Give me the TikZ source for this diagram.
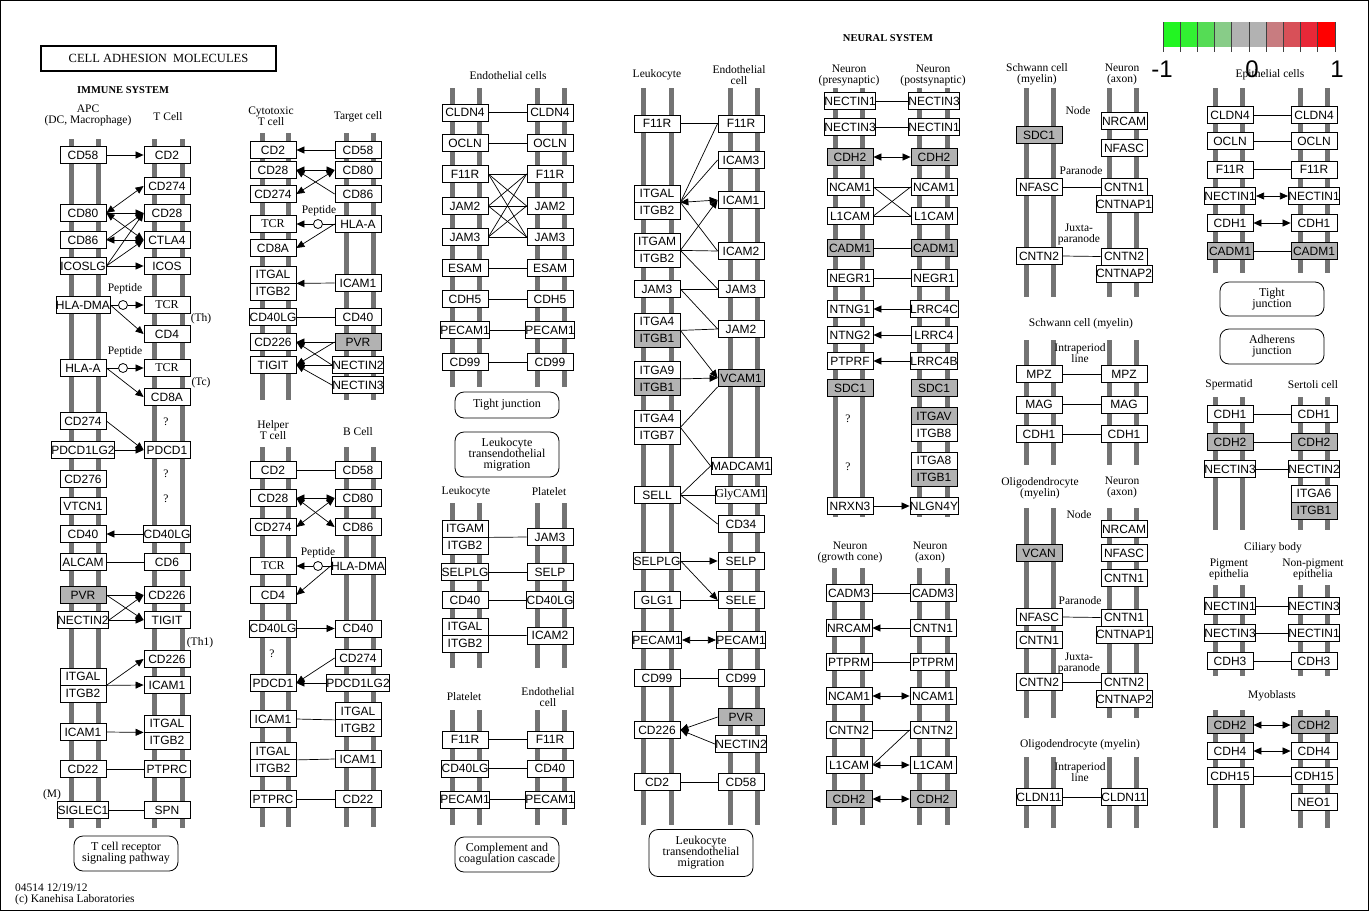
\documentclass[tikz,border=0pt]{standalone}
\usepackage{fontspec}
\setmainfont{Liberation Serif}
\newfontfamily\gfont{Liberation Sans}
\usetikzlibrary{arrows.meta}
\definecolor{kgray}{RGB}{178,178,178}
\definecolor{mgray}{RGB}{115,115,115}
\definecolor{lc1}{RGB}{34,245,34}
\definecolor{lc2}{RGB}{50,240,50}
\definecolor{lc3}{RGB}{85,220,85}
\definecolor{lc4}{RGB}{136,204,136}
\definecolor{lc5}{RGB}{178,178,178}
\definecolor{lc6}{RGB}{178,178,178}
\definecolor{lc7}{RGB}{200,124,128}
\definecolor{lc8}{RGB}{216,80,88}
\definecolor{lc9}{RGB}{232,40,56}
\definecolor{lc10}{RGB}{255,0,0}
\newcounter{lbc}
\newcommand\Gn[4]{\node[gb] (#1) at (#2,#3) {#4};}
\newcommand\Gg[4]{\node[gy] (#1) at (#2,#3) {#4};}
\newcommand\Gd[7]{\node[#6] (#1t) at (#2,#3) {#4};\node[#7] (#1b) at (#2,#3+17) {#5};}
\newcommand\Mem[4]{\draw[memb] (#1,#3) -- (#1,#4);\draw[memb] (#2,#3) -- (#2,#4);}
\newcommand\Lb[3]{\stepcounter{lbc}\node[lab] (lb\arabic{lbc}) at (#1,#2) {#3};}
\tikzset{
 gb/.style={draw, line width=0.8pt, fill=white, minimum width=46pt, minimum height=17pt, inner sep=0pt, font=\gfont\fontsize{12}{12}\selectfont},
 gy/.style={gb, fill=kgray},
 sb/.style={gb, font=\fontsize{12}{12}\selectfont},
 lab/.style={font=\fontsize{11.5}{11}\selectfont, align=center, inner sep=0pt},
 memb/.style={line width=5pt, color=mgray},
 cn/.style={line width=0.7pt},
 ar/.style={cn, -{Triangle[length=8pt,width=7pt]}},
 dar/.style={cn, {Triangle[length=8pt,width=7pt]}-{Triangle[length=8pt,width=7pt]}},
 rbox/.style={draw, rounded corners=9pt, line width=0.8pt, align=center, inner sep=0pt, minimum width=104pt, font=\fontsize{12}{11}\selectfont},
 pep/.style={circle, draw, fill=white, minimum size=9pt, inner sep=0pt, line width=0.8pt},
}
\begin{document}
\begin{tikzpicture}[x=1pt,y=-1pt]
\useasboundingbox (0,0) rectangle (1369,911);
\draw[line width=1pt] (0.5,0.5) rectangle (1368.5,910.5);
% ---------- membranes
\Mem{71}{98}{139}{828}\Mem{154}{182}{139}{828}
\Mem{262}{288}{133}{400}\Mem{346}{373}{133}{400}
\Mem{262}{288}{447}{827}\Mem{346}{373}{447}{827}
\Mem{452}{479}{88}{387}\Mem{537}{564}{88}{387}
\Mem{452}{479}{503}{668}\Mem{537}{564}{503}{668}
\Mem{452}{479}{710}{825}\Mem{537}{564}{710}{825}
\Mem{643}{671}{88}{825}\Mem{730}{757}{88}{825}
\Mem{835}{862}{88}{517}\Mem{919}{947}{88}{517}
\Mem{834}{862}{568}{825}\Mem{919}{947}{568}{825}
\Mem{1026}{1053}{88}{297}\Mem{1109}{1136}{88}{297}
\Mem{1026}{1053}{340}{465}\Mem{1109}{1136}{340}{465}
\Mem{1026}{1053}{508}{718}\Mem{1109}{1136}{508}{718}
\Mem{1026}{1053}{757}{828}\Mem{1109}{1136}{757}{828}
\Mem{1215}{1242}{88}{273}\Mem{1300}{1327}{88}{273}
\Mem{1215}{1242}{397}{530}\Mem{1300}{1327}{397}{530}
\Mem{1215}{1242}{585}{676}\Mem{1300}{1327}{585}{676}
\Mem{1215}{1242}{710}{828}\Mem{1300}{1327}{710}{828}
% ---------- title and headers
\node[draw, line width=1.6pt, minimum width=235pt, minimum height=25pt, inner sep=0pt, font=\fontsize{12.5}{12.5}\selectfont] (title) at (158.5,58.5) {CELL ADHESION\ \ MOLECULES};
\node[font=\bfseries\fontsize{10.5}{10.5}\selectfont, inner sep=0pt] (immsys) at (123,90) {IMMUNE SYSTEM};
\node[font=\bfseries\fontsize{10.5}{10.5}\selectfont, inner sep=0pt] (neusys) at (888,38) {NEURAL SYSTEM};
\Lb{88}{115}{APC\\(DC, Macrophage)}
\Lb{168}{117}{T Cell}
\Lb{271}{116}{Cytotoxic\\T cell}
\Lb{358}{117}{Target cell}
\Lb{273}{430}{Helper\\T cell}
\Lb{358}{432}{B Cell}
\Lb{508}{76}{Endothelial cells}
\Lb{466}{492}{Leukocyte}
\Lb{549}{492}{Platelet}
\Lb{464}{697}{Platelet}
\Lb{548}{697}{Endothelial\\cell}
\Lb{657}{75}{Leukocyte}
\Lb{739}{75}{Endothelial\\cell}
\Lb{849}{75}{Neuron\\(presynaptic)}
\Lb{933}{75}{Neuron\\(postsynaptic)}
\Lb{850}{552}{Neuron\\(growth cone)}
\Lb{930}{552}{Neuron\\(axon)}
\Lb{1037}{74}{Schwann cell\\(myelin)}
\Lb{1122}{74}{Neuron\\(axon)}
\Lb{1078}{111}{Node}
\Lb{1081}{171}{Paranode}
\Lb{1079}{234}{Juxta-\\paranode}
\Lb{1081}{324}{Schwann cell (myelin)}
\Lb{1080}{353}{Intraperiod\\line}
\Lb{1040}{488}{Oligodendrocyte\\(myelin)}
\Lb{1122}{487}{Neuron\\(axon)}
\Lb{1079}{515}{Node}
\Lb{1080}{601}{Paranode}
\Lb{1079}{663}{Juxta-\\paranode}
\Lb{1080}{745}{Oligodendrocyte (myelin)}
\Lb{1080}{772}{Intraperiod\\line}
\Lb{1270}{75}{Epithelial cells}
\Lb{1229}{385}{Spermatid}
\Lb{1313}{385}{Sertoli cell}
\Lb{1273}{548}{Ciliary body}
\Lb{1229}{569}{Pigment\\epithelia}
\Lb{1313}{569}{Non-pigment\\epithelia}
\Lb{1272}{696}{Myoblasts}
\Lb{201}{319}{(Th)}
\Lb{201}{383}{(Tc)}
\Lb{200}{643}{(Th1)}
\Lb{52}{795}{(M)}
\Lb{125}{289}{Peptide}
\Lb{125}{352}{Peptide}
\Lb{319}{211}{Peptide}
\Lb{318}{553}{Peptide}
\Lb{166}{422}{?}
\Lb{166}{474}{?}
\Lb{166}{499}{?}
\Lb{272}{654}{?}
\Lb{848}{419}{?}
\Lb{848}{467}{?}
\node[lab, anchor=west] (foot1) at (15,888) {04514 12/19/12};
\node[lab, anchor=west] (foot2) at (15,900) {(c) Kanehisa Laboratories};
% ---------- legend
\foreach \i in {1,...,10} \fill[lc\i] ({1163+(\i-1)*17.2},22) rectangle ({1163+\i*17.2},47);
\foreach \i in {0,...,10} \draw[line width=0.8pt, black!75] ({1163+\i*17.2},22) -- ({1163+\i*17.2},52);
\node[font=\gfont\fontsize{24}{24}\selectfont, inner sep=0pt] (lgm) at (1162,69) {-1};
\node[font=\gfont\fontsize{24}{24}\selectfont, inner sep=0pt] (lgz) at (1252,69) {0};
\node[font=\gfont\fontsize{24}{24}\selectfont, inner sep=0pt] (lgp) at (1337,69) {1};
% ---------- rounded boxes
\node[rbox, minimum height=35pt] (rb1) at (126,853.5) {T cell receptor\\signaling pathway};
\node[rbox, minimum height=26pt] (rb2) at (507,405) {Tight junction};
\node[rbox, minimum height=45pt] (rb3) at (507,454.5) {Leukocyte\\transendothelial\\migration};
\node[rbox, minimum height=35pt] (rb4) at (507,854.5) {Complement and\\coagulation cascade};
\node[rbox, minimum height=47pt] (rb5) at (701,853) {Leukocyte\\transendothelial\\migration};
\node[rbox, minimum height=34pt] (rb6) at (1272,299) {Tight\\junction};
\node[rbox, minimum height=35pt] (rb7) at (1272,346.5) {Adherens\\junction};
% ========== Section A
\Gn{a1}{83}{155}{CD58}\Gn{a2}{167}{155}{CD2}
\Gn{a3}{167}{186}{CD274}
\Gn{a4}{83}{213}{CD80}\Gn{a5}{167}{213}{CD28}
\Gn{a6}{83}{240}{CD86}\Gn{a7}{167}{240}{CTLA4}
\Gn{a8}{83}{266}{ICOSLG}\Gn{a9}{167}{266}{ICOS}
\Gn{a10}{83}{305}{HLA-DMA}\node[sb] (a11) at (167,305) {TCR};
\Gn{a12}{167}{334}{CD4}
\Gn{a13}{83}{368}{HLA-A}\node[sb] (a14) at (167,368) {TCR};
\Gn{a15}{167}{397}{CD8A}
\Gn{a16}{83}{421}{CD274}
\Gn{a17}{83}{450}{PDCD1LG2}\Gn{a18}{167}{450}{PDCD1}
\Gn{a19}{83}{479}{CD276}
\Gn{a20}{83}{506}{VTCN1}
\Gn{a21}{83}{534}{CD40}\Gn{a22}{167}{534}{CD40LG}
\Gn{a23}{83}{562}{ALCAM}\Gn{a24}{167}{562}{CD6}
\Gg{a25}{83}{595}{PVR}\Gn{a26}{167}{595}{CD226}
\Gn{a27}{83}{620}{NECTIN2}\Gn{a28}{167}{620}{TIGIT}
\Gn{a29}{167}{659}{CD226}
\Gd{a30}{83}{676.5}{ITGAL}{ITGB2}{gb}{gb}
\Gn{a31}{167}{685}{ICAM1}
\Gn{a32}{83}{732}{ICAM1}
\Gd{a33}{167}{723.5}{ITGAL}{ITGB2}{gb}{gb}
\Gn{a34}{83}{769}{CD22}\Gn{a35}{167}{769}{PTPRC}
\Gn{a36}{83}{810}{SIGLEC1}\Gn{a37}{167}{810}{SPN}
\node[pep] (ap1) at (123,305) {};
\node[pep] (ap2) at (123,368) {};
\draw[ar] (a1.east) -- (a2.west);
\draw[dar] (a4.east) -- (a3.west);
\draw[ar] (a4.east) -- (a5.west);
\draw[dar] (a4.east) -- (a7.west);
\draw[ar] (a6.east) -- (a5.west);
\draw[dar] (a6.east) -- (a7.west);
\draw[ar] (a8.east) -- (a5.west);
\draw[ar] (a8.east) -- (a7.west);
\draw[ar] (a8.east) -- (a9.west);
\draw[cn] (a10.east) -- (ap1.west);
\draw[ar] (ap1.east) -- (a11.west);
\draw[ar] (a10.east) -- (a12.west);
\draw[cn] (a13.east) -- (ap2.west);
\draw[ar] (ap2.east) -- (a14.west);
\draw[ar] (a13.east) -- (a15.west);
\draw[ar] (a16.east) -- (a18.west);
\draw[ar] (a17.east) -- (a18.west);
\draw[ar] (a22.west) -- (a21.east);
\draw[cn] (a23.east) -- (a24.west);
\draw[ar] (a25.east) -- (a26.west);
\draw[ar] (a25.east) -- (a28.west);
\draw[ar] (a27.east) -- (a26.west);
\draw[ar] (a27.east) -- (a28.west);
\draw[ar] (a30t.south east) -- (a29.west);
\draw[ar] (a30t.south east) -- (a31.west);
\draw[ar] (a32.east) -- (a33t.south west);
\draw[cn] (a34.east) -- (a35.west);
\draw[cn] (a36.east) -- (a37.west);
% ========== Section B
\Gn{b1}{273}{150}{CD2}\Gn{b2}{358}{150}{CD58}
\Gn{b3}{273}{170}{CD28}\Gn{b4}{358}{170}{CD80}
\Gn{b5}{273}{194}{CD274}\Gn{b6}{358}{194}{CD86}
\node[sb] (b7) at (273,224) {TCR};\Gn{b8}{358}{224}{HLA-A}
\Gn{b9}{273}{248}{CD8A}
\Gd{b10}{273}{274.5}{ITGAL}{ITGB2}{gb}{gb}
\Gn{b11}{358}{283}{ICAM1}
\Gn{b12}{273}{317}{CD40LG}\Gn{b13}{358}{317}{CD40}
\Gn{b14}{273}{342}{CD226}\Gg{b15}{358}{342}{PVR}
\Gn{b16}{273}{365}{TIGIT}\Gn{b17}{358}{365}{NECTIN2}
\Gn{b18}{358}{385}{NECTIN3}
\node[pep] (bp) at (318,224) {};
\draw[ar] (b2.west) -- (b1.east);
\draw[dar] (b3.east) -- (b4.west);
\draw[ar] (b6.west) -- (b3.east);
\draw[dar] (b4.west) -- (b5.east);
\draw[cn] (b8.west) -- (bp.east);
\draw[ar] (bp.west) -- (b7.east);
\draw[ar] (b8.west) -- (b9.east);
\draw[ar] (b11.west) -- (b10t.south east);
\draw[cn] (b12.east) -- (b13.west);
\draw[ar] (b15.west) -- (b14.east);
\draw[ar] (b15.west) -- (b16.east);
\draw[ar] (b17.west) -- (b14.east);
\draw[ar] (b17.west) -- (b16.east);
\draw[ar] (b18.west) -- (b16.east);
% ========== Section C
\Gn{c1}{273}{470}{CD2}\Gn{c2}{358}{470}{CD58}
\Gn{c3}{273}{498}{CD28}\Gn{c4}{358}{498}{CD80}
\Gn{c5}{273}{527}{CD274}\Gn{c6}{358}{527}{CD86}
\node[sb] (c7) at (273,566) {TCR};\Gn{c8}{358}{566}{HLA-DMA}
\Gn{c9}{273}{595}{CD4}
\Gn{c10}{273}{628.5}{CD40LG}\Gn{c11}{358}{628.5}{CD40}
\Gn{c12}{358}{658}{CD274}
\Gn{c13}{273}{683}{PDCD1}\Gn{c14}{358}{683}{PDCD1LG2}
\Gn{c15}{273}{719}{ICAM1}
\Gd{c16}{358}{711}{ITGAL}{ITGB2}{gb}{gb}
\Gd{c17}{273}{751}{ITGAL}{ITGB2}{gb}{gb}
\Gn{c18}{358}{759}{ICAM1}
\Gn{c19}{273}{799}{PTPRC}\Gn{c20}{358}{799}{CD22}
\node[pep] (cp) at (318,566) {};
\draw[cn] (c1.east) -- (c2.west);
\draw[dar] (c3.east) -- (c4.west);
\draw[dar] (c3.east) -- (c6.west);
\draw[dar] (c5.east) -- (c4.west);
\draw[cn] (c8.west) -- (cp.east);
\draw[ar] (cp.west) -- (c7.east);
\draw[ar] (c8.west) -- (c9.east);
\draw[ar] (c10.east) -- (c11.west);
\draw[ar] (c12.west) -- (c13.east);
\draw[ar] (c14.west) -- (c13.east);
\draw[cn] (c15.east) -- (c16t.south west);
\draw[cn] (c17t.south east) -- (c18.west);
\draw[cn] (c19.east) -- (c20.west);
% ========== Section D
\Gn{d1}{465}{112.5}{CLDN4}\Gn{d2}{550}{112.5}{CLDN4}
\Gn{d3}{465}{143}{OCLN}\Gn{d4}{550}{143}{OCLN}
\Gn{d5}{465}{174}{F11R}\Gn{d6}{550}{174}{F11R}
\Gn{d7}{465}{206}{JAM2}\Gn{d8}{550}{206}{JAM2}
\Gn{d9}{465}{237}{JAM3}\Gn{d10}{550}{237}{JAM3}
\Gn{d11}{465}{268}{ESAM}\Gn{d12}{550}{268}{ESAM}
\Gn{d13}{465}{299}{CDH5}\Gn{d14}{550}{299}{CDH5}
\Gn{d15}{465}{330}{PECAM1}\Gn{d16}{550}{330}{PECAM1}
\Gn{d17}{465}{362}{CD99}\Gn{d18}{550}{362}{CD99}
\foreach \p/\q in {d1/d2,d3/d4,d11/d12,d13/d14,d15/d16,d17/d18} \draw[cn] (\p.east) -- (\q.west);
\foreach \p in {d5,d7,d9} \foreach \q in {d6,d8,d10} \draw[cn] (\p.east) -- (\q.west);
% ========== Section E
\Gd{e1}{465}{528.5}{ITGAM}{ITGB2}{gb}{gb}
\Gn{e2}{550}{537}{JAM3}
\Gn{e3}{465}{572}{SELPLG}\Gn{e4}{550}{572}{SELP}
\Gn{e5}{465}{600}{CD40}\Gn{e6}{550}{600}{CD40LG}
\Gd{e7}{465}{626.5}{ITGAL}{ITGB2}{gb}{gb}
\Gn{e8}{550}{635.5}{ICAM2}
\draw[cn] (e1t.south east) -- (e2.west);
\draw[cn] (e3.east) -- (e4.west);
\draw[cn] (e5.east) -- (e6.west);
\draw[cn] (e7t.south east) -- (e8.west);
% ========== Section F
\Gn{f1}{465}{739.5}{F11R}\Gn{f2}{550}{739.5}{F11R}
\Gn{f3}{465}{768.5}{CD40LG}\Gn{f4}{550}{768.5}{CD40}
\Gn{f5}{465}{799.5}{PECAM1}\Gn{f6}{550}{799.5}{PECAM1}
\foreach \p/\q in {f1/f2,f3/f4,f5/f6} \draw[cn] (\p.east) -- (\q.west);
% ========== Section G
\Gn{g1}{657}{123.5}{F11R}\Gn{g2}{741}{123.5}{F11R}
\Gn{g3}{741}{160}{ICAM3}
\Gd{g4}{657}{193.5}{ITGAL}{ITGB2}{gb}{gb}
\Gn{g5}{741}{200}{ICAM1}
\Gd{g6}{657}{241.5}{ITGAM}{ITGB2}{gb}{gb}
\Gn{g7}{741}{251}{ICAM2}
\Gn{g8}{657}{289}{JAM3}\Gn{g9}{741}{289}{JAM3}
\Gd{g10}{657}{321.5}{ITGA4}{ITGB1}{gb}{gy}
\Gn{g11}{741}{329}{JAM2}
\Gd{g12}{657}{370}{ITGA9}{ITGB1}{gb}{gy}
\Gg{g13}{741}{378}{VCAM1}
\Gd{g14}{657}{418.5}{ITGA4}{ITGB7}{gb}{gb}
\Gn{g15}{741}{466}{MADCAM1}
\Gn{g16}{657}{495}{SELL}
\node[sb] (g17) at (741,495) {GlyCAM1};
\Gn{g18}{741}{524}{CD34}
\Gn{g19}{657}{561}{SELPLG}\Gn{g20}{741}{561}{SELP}
\Gn{g21}{657}{600}{GLG1}\Gn{g22}{741}{600}{SELE}
\Gn{g23}{657}{640}{PECAM1}\Gn{g24}{741}{640}{PECAM1}
\Gn{g25}{657}{678}{CD99}\Gn{g26}{741}{678}{CD99}
\Gg{g27}{741}{717}{PVR}
\Gn{g28}{657}{730}{CD226}
\Gn{g29}{741}{744}{NECTIN2}
\Gn{g30}{657}{782}{CD2}\Gn{g31}{741}{782}{CD58}
\draw[cn] (g1.east) -- (g2.west);
\draw[cn] (g4t.south east) -- (g2.west);
\draw[cn] (g4t.south east) -- (g3.west);
\draw[dar] (g4t.south east) -- (g5.west);
\draw[cn] (g4t.south east) -- (g7.west);
\draw[ar] (g6t.south east) -- (g5.west);
\draw[cn] (g6t.south east) -- (g7.west);
\draw[cn] (g6t.south east) -- (g9.west);
\draw[cn] (g8.east) -- (g9.west);
\draw[cn] (g8.east) -- (g11.west);
\draw[cn] (g10t.south east) -- (g11.west);
\draw[ar] (g10t.south east) -- (g13.west);
\draw[ar] (g12t.south east) -- (g13.west);
\draw[cn] (g14t.south east) -- (g13.south west);
\draw[cn] (g14t.south east) -- (g15.west);
\draw[cn] (g16.east) -- (g15.west);
\draw[cn] (g16.east) -- (g17.west);
\draw[cn] (g16.east) -- (g18.west);
\draw[ar] (g19.east) -- (g20.west);
\draw[ar] (g19.east) -- (g22.west);
\draw[cn] (g21.east) -- (g22.west);
\draw[dar] (g23.east) -- (g24.west);
\draw[cn] (g25.east) -- (g26.west);
\draw[ar] (g27.west) -- (g28.east);
\draw[ar] (g29.west) -- (g28.east);
\draw[cn] (g30.east) -- (g31.west);
% ========== Section H
\Gn{h1}{850}{101}{NECTIN1}\Gn{h2}{934}{101}{NECTIN3}
\Gn{h3}{850}{127}{NECTIN3}\Gn{h4}{934}{127}{NECTIN1}
\Gg{h5}{850}{157}{CDH2}\Gg{h6}{934}{157}{CDH2}
\Gn{h7}{850}{187}{NCAM1}\Gn{h8}{934}{187}{NCAM1}
\Gn{h9}{850}{216}{L1CAM}\Gn{h10}{934}{216}{L1CAM}
\Gg{h11}{850}{248}{CADM1}\Gg{h12}{934}{248}{CADM1}
\Gn{h13}{850}{278}{NEGR1}\Gn{h14}{934}{278}{NEGR1}
\Gn{h15}{850}{309}{NTNG1}\Gn{h16}{934}{309}{LRRC4C}
\Gn{h17}{850}{335}{NTNG2}\Gn{h18}{934}{335}{LRRC4}
\Gn{h19}{850}{361}{PTPRF}\Gn{h20}{934}{361}{LRRC4B}
\Gg{h21}{850}{388}{SDC1}\Gg{h22}{934}{388}{SDC1}
\Gd{h23}{934}{416}{ITGAV}{ITGB8}{gy}{gb}
\Gd{h24}{934}{460.5}{ITGA8}{ITGB1}{gb}{gy}
\Gn{h25}{850}{506}{NRXN3}\Gn{h26}{934}{506}{NLGN4Y}
\foreach \p/\q in {h1/h2,h3/h4,h7/h8,h9/h10,h11/h12,h13/h14,h7/h10,h9/h8} \draw[cn] (\p.east) -- (\q.west);
\draw[dar] (h5.east) -- (h6.west);
\draw[ar] (h16.west) -- (h15.east);
\draw[ar] (h18.west) -- (h17.east);
\draw[ar] (h20.west) -- (h19.east);
\draw[ar] (h25.east) -- (h26.west);
% ========== Section I
\Gn{i1}{849}{593}{CADM3}\Gn{i2}{933}{593}{CADM3}
\Gn{i3}{849}{628}{NRCAM}\Gn{i4}{933}{628}{CNTN1}
\Gn{i5}{849}{662}{PTPRM}\Gn{i6}{933}{662}{PTPRM}
\Gn{i7}{849}{696}{NCAM1}\Gn{i8}{933}{696}{NCAM1}
\Gn{i9}{849}{730}{CNTN2}\Gn{i10}{933}{730}{CNTN2}
\Gn{i11}{849}{765}{L1CAM}\Gn{i12}{933}{765}{L1CAM}
\Gg{i13}{849}{799}{CDH2}\Gg{i14}{933}{799}{CDH2}
\draw[cn] (i1.east) -- (i2.west);
\draw[ar] (i4.west) -- (i3.east);
\draw[cn] (i5.east) -- (i6.west);
\draw[dar] (i7.east) -- (i8.west);
\draw[cn] (i9.east) -- (i10.west);
\draw[cn] (i10.west) -- (i11.east);
\draw[dar] (i11.east) -- (i12.west);
\draw[dar] (i13.east) -- (i14.west);
% ========== Section J
\Gn{j1}{1124}{121}{NRCAM}
\Gg{j2}{1039}{135}{SDC1}
\Gn{j3}{1124}{148}{NFASC}
\Gn{j4}{1039}{187}{NFASC}
\Gd{j5}{1124}{187}{CNTN1}{CNTNAP1}{gb}{gb}
\Gn{j6}{1039}{256}{CNTN2}
\Gd{j7}{1124}{256.5}{CNTN2}{CNTNAP2}{gb}{gb}
\draw[cn] (j4.east) -- (j5t.west);
\draw[cn] (j6.east) -- (j7t.west);
% ========== Section K
\Gn{k1}{1039}{374}{MPZ}\Gn{k2}{1124}{374}{MPZ}
\Gn{k3}{1039}{404.5}{MAG}\Gn{k4}{1124}{404.5}{MAG}
\Gn{k5}{1039}{434}{CDH1}\Gn{k6}{1124}{434}{CDH1}
\foreach \p/\q in {k1/k2,k3/k4,k5/k6} \draw[cn] (\p.east) -- (\q.west);
% ========== Section L
\Gn{l1}{1124}{529}{NRCAM}
\Gg{l2}{1039}{553}{VCAN}
\Gn{l3}{1124}{553}{NFASC}
\Gn{l4}{1124}{578}{CNTN1}
\Gn{l5}{1039}{617}{NFASC}
\Gd{l6}{1124}{617.5}{CNTN1}{CNTNAP1}{gb}{gb}
\Gn{l7}{1039}{640}{CNTN1}
\Gn{l8}{1039}{682}{CNTN2}
\Gd{l9}{1124}{682}{CNTN2}{CNTNAP2}{gb}{gb}
\draw[cn] (l5.east) -- (l6t.west);
\draw[cn] (l8.east) -- (l9t.west);
% ========== Section M
\Gn{m1}{1039}{797}{CLDN11}\Gn{m2}{1124}{797}{CLDN11}
\draw[cn] (m1.east) -- (m2.west);
% ========== Section N
\Gn{n1}{1230}{115}{CLDN4}\Gn{n2}{1314}{115}{CLDN4}
\Gn{n3}{1230}{141}{OCLN}\Gn{n4}{1314}{141}{OCLN}
\Gn{n5}{1230}{169.5}{F11R}\Gn{n6}{1314}{169.5}{F11R}
\Gn{n7}{1230}{196}{NECTIN1}\Gn{n8}{1314}{196}{NECTIN1}
\Gn{n9}{1230}{223}{CDH1}\Gn{n10}{1314}{223}{CDH1}
\Gg{n11}{1230}{251}{CADM1}\Gg{n12}{1314}{251}{CADM1}
\foreach \p/\q in {n1/n2,n3/n4,n5/n6,n11/n12} \draw[cn] (\p.east) -- (\q.west);
\draw[dar] (n7.east) -- (n8.west);
\draw[dar] (n9.east) -- (n10.west);
% ========== Section O
\Gn{o1}{1230}{414}{CDH1}\Gn{o2}{1314}{414}{CDH1}
\Gg{o3}{1230}{442}{CDH2}\Gg{o4}{1314}{442}{CDH2}
\Gn{o5}{1230}{469}{NECTIN3}\Gn{o6}{1314}{469}{NECTIN2}
\Gd{o7}{1314}{493.5}{ITGA6}{ITGB1}{gb}{gy}
\foreach \p/\q in {o1/o2,o3/o4,o5/o6} \draw[cn] (\p.east) -- (\q.west);
% ========== Section P
\Gn{p1}{1230}{606}{NECTIN1}\Gn{p2}{1314}{606}{NECTIN3}
\Gn{p3}{1230}{633}{NECTIN3}\Gn{p4}{1314}{633}{NECTIN1}
\Gn{p5}{1230}{661}{CDH3}\Gn{p6}{1314}{661}{CDH3}
\foreach \p/\q in {p1/p2,p3/p4,p5/p6} \draw[cn] (\p.east) -- (\q.west);
% ========== Section Q
\Gg{q1}{1230}{725}{CDH2}\Gg{q2}{1314}{725}{CDH2}
\Gn{q3}{1230}{751}{CDH4}\Gn{q4}{1314}{751}{CDH4}
\Gn{q5}{1230}{776}{CDH15}\Gn{q6}{1314}{776}{CDH15}
\Gn{q7}{1314}{802}{NEO1}
\draw[dar] (q1.east) -- (q2.west);
\draw[dar] (q3.east) -- (q4.west);
\draw[cn] (q5.east) -- (q6.west);
\end{tikzpicture}
\end{document}
